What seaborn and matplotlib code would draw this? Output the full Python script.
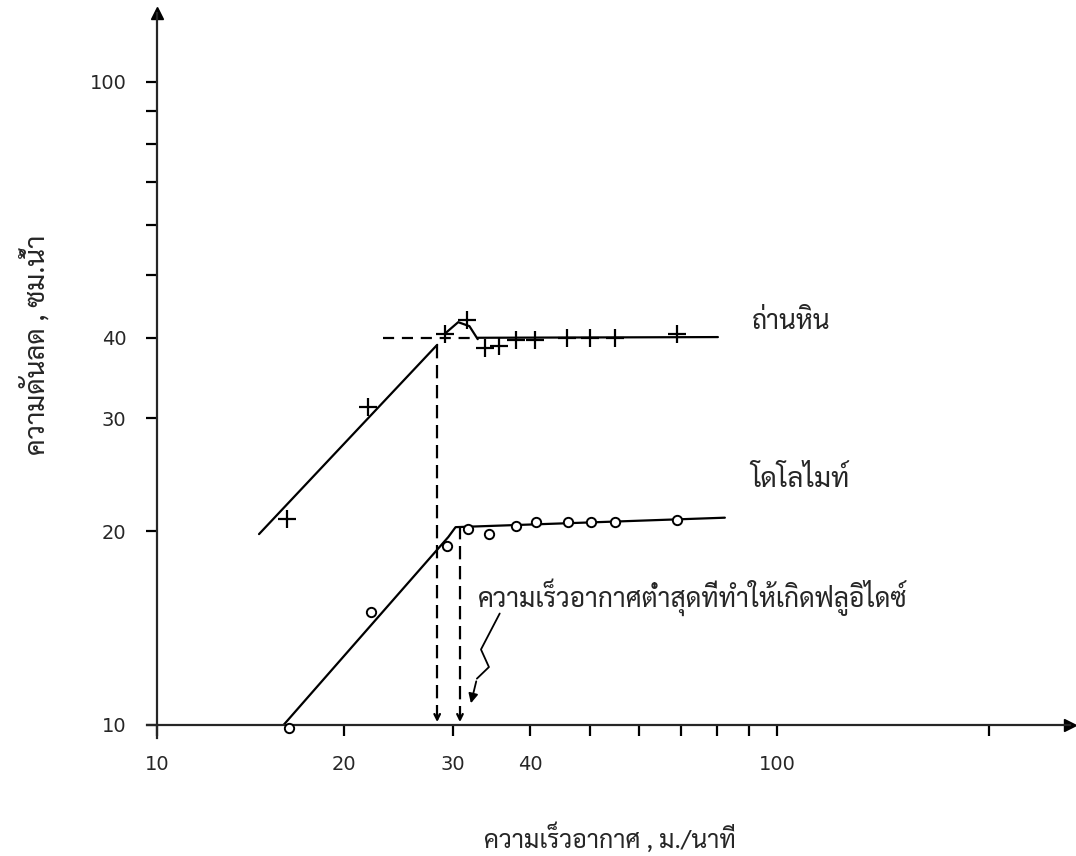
import matplotlib
matplotlib.use("Agg")
import matplotlib.pyplot as plt
from matplotlib import font_manager
import seaborn as sns
import pandas as pd

# coal (ถ่านหิน) measurements, + markers
coal_x = [16.2, 21.9, 29.1, 31.6, 33.8, 35.6, 37.9, 40.7, 45.8, 49.9, 54.8, 69.0]
coal_y = [20.9, 31.2, 40.5, 42.6, 38.6, 38.9, 39.7, 39.7, 40.0, 40.0, 40.0, 40.6]
# dolomite (โดโลไมท์) measurements, o markers
dolo_x = [16.3, 22.1, 29.3, 31.7, 34.3, 37.9, 40.8, 46.0, 50.2, 54.8, 69.0]
dolo_y = [9.9, 15.0, 19.0, 20.2, 19.8, 20.4, 20.7, 20.7, 20.7, 20.7, 20.8]

# hand drawn fitted lines
coal_rise_x = [14.6, 28.3]
coal_rise_y = [19.8, 39.0]
coal_bump_x = [29.3, 30.6, 31.9, 32.9]
coal_bump_y = [40.8, 42.3, 41.7, 39.8]
coal_flat_x = [32.9, 80.3]
coal_flat_y = [40.0, 40.1]
coal_dash_x = [23.1, 32.8]
coal_dash_y = [40.0, 40.0]
dolo_fit_x = [16.0, 29.5, 30.3, 82.4]
dolo_fit_y = [10.0, 19.6, 20.3, 21.0]

# minimum fluidisation velocities (vertical dashed lines)
umf_x = [28.3, 30.8]
umf_top = [39.0, 20.4]

# zig-zag pointer for the note
zig_x = [35.7, 33.3, 34.3]
zig_y = [14.9, 13.1, 12.3]
zig_tip = (32.0, 10.7)

xticks_major = [10, 20, 30, 40, 100]
xticks_minor = [50, 60, 70, 80, 90, 220]
yticks_major = [10, 20, 30, 40, 100]
yticks_minor = [50, 60, 70, 80, 90]

sns.set_style("white")

names = {f.name for f in font_manager.fontManager.ttflist}
thai = "DejaVu Sans"
for cand in ["Sarabun", "Noto Sans Thai Looped", "Noto Sans Thai", "Athiti", "Chakra Petch"]:
    if cand in names:
        thai = cand
        break
plt.rcParams['font.family'] = ['DejaVu Sans']

fig = plt.figure(figsize=(10.76, 8.56), dpi=100)
W, H = 1076, 856
ax = fig.add_axes([147 / W, (H - 738) / H, (1070 - 147) / W, (738 - 13) / H])
ax.set_xscale("log")
ax.set_yscale("log")
ax.set_xlim(9.63, 297)
ax.set_ylim(9.54, 128)

lw = 1.6
ax.plot(coal_rise_x, coal_rise_y, color="black", lw=lw)
ax.plot(coal_bump_x, coal_bump_y, color="black", lw=lw)
ax.plot(coal_flat_x, coal_flat_y, color="black", lw=lw)
ax.plot(coal_dash_x, coal_dash_y, color="black", lw=lw, dashes=(5, 3.5))
ax.plot(dolo_fit_x, dolo_fit_y, color="black", lw=lw)

coal = pd.DataFrame({"x": coal_x, "y": coal_y})
dolo = pd.DataFrame({"x": dolo_x, "y": dolo_y})
sns.scatterplot(data=coal, x="x", y="y", marker="+", s=160, color="black",
                linewidth=1.6, ax=ax, zorder=3)
sns.scatterplot(data=dolo, x="x", y="y", marker="o", s=45, facecolor="white",
                edgecolor="black", linewidth=1.4, ax=ax, zorder=3)

for xv, yt in zip(umf_x, umf_top):
    ax.plot([xv, xv], [yt, 10.35], color="black", lw=lw, dashes=(6, 3))
    ax.annotate("", xy=(xv, 10.0), xytext=(xv, 10.5),
                arrowprops=dict(arrowstyle="->", color="black", lw=lw))

ax.plot(zig_x + [zig_tip[0] + 0.8], zig_y + [zig_y[-1] - 0.5], color="black", lw=1.3)
ax.annotate("", xy=zig_tip, xytext=(zig_tip[0] + 0.8, zig_y[-1] - 0.5),
            arrowprops=dict(arrowstyle="-|>", color="black", lw=1.3, mutation_scale=14))

fig.text(752 / W, (H - 322) / H, "ถ่านหิน", fontsize=19, family=thai, va="center")
fig.text(750 / W, (H - 480) / H, "โดโลไมท์", fontsize=20, family=thai, va="center")
fig.text(478 / W, (H - 597) / H, "ความเร็วอากาศต่ำสุดที่ทำให้เกิดฟลูอิไดซ์",
         fontsize=19, family=thai, va="center")
fig.text(610 / W, (H - 838) / H, "ความเร็วอากาศ , ม./นาที", fontsize=18,
         family=thai, ha="center", va="center")
fig.text(36 / W, (H - 345) / H, "ความดันลด , ซม.น้ำ", fontsize=20, family=thai,
         rotation=90, ha="center", va="center")

# axes drawn as crossing lines with arrows
for s in ["top", "right"]:
    ax.spines[s].set_visible(False)
ax.spines["left"].set_position(("data", 10))
ax.spines["bottom"].set_position(("data", 10))
for s in ["left", "bottom"]:
    ax.spines[s].set_linewidth(1.6)
ax.plot(1, 10, marker=">", color="black", ms=9, transform=ax.get_yaxis_transform(),
        clip_on=False)
ax.plot(10, 1, marker="^", color="black", ms=9, transform=ax.get_xaxis_transform(),
        clip_on=False)

ax.set_xticks(xticks_major)
ax.set_xticklabels([str(v) for v in xticks_major])
ax.set_xticks(xticks_minor, minor=True)
ax.set_xticklabels([], minor=True)
ax.set_yticks(yticks_major)
ax.set_yticklabels([str(v) for v in yticks_major])
ax.set_yticks(yticks_minor, minor=True)
ax.set_yticklabels([], minor=True)
ax.tick_params(which="both", bottom=True, left=True, direction="out", length=8,
               width=1.6, labelsize=14, pad=14, color="black")
ax.set_xlabel("")
ax.set_ylabel("")

fig.savefig("out.png", dpi=100, facecolor="white")
